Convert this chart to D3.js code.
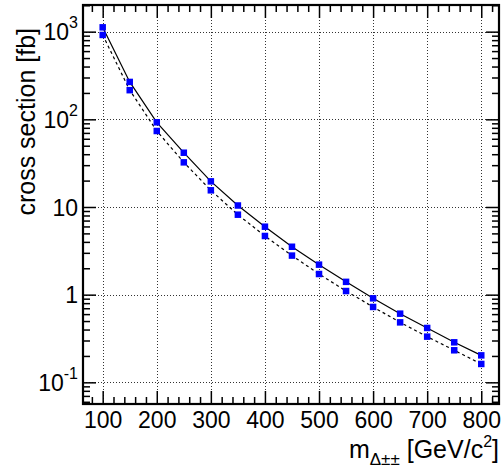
<!DOCTYPE html>
<html>
<head>
<meta charset="utf-8">
<script src="https://cdn.jsdelivr.net/npm/d3@7"></script>
<style>
  html, body { margin: 0; padding: 0; background: #fff; }
  svg { display: block; font-family: "Liberation Sans", Arial, Helvetica, sans-serif; }
</style>
</head>
<body>
<svg id="chart" width="501" height="468"></svg>
<script>
// ---- data ----
const masses = [100, 150, 200, 250, 300, 350, 400, 450, 500, 550, 600, 650, 700, 750, 800];
const xsecUpper = [1120, 267, 92.5, 41.6, 19.6, 10.4, 5.96, 3.52, 2.20, 1.40, 0.908, 0.607, 0.417, 0.286, 0.203];
const xsecLower = [917, 215, 73.6, 32.3, 15.5, 8.17, 4.67, 2.79, 1.72, 1.10, 0.724, 0.483, 0.332, 0.232, 0.162];
const xMajorTicks = [100, 200, 300, 400, 500, 600, 700, 800];
const yMajorTicks = [1000, 100, 10, 1, 0.1];
const yTickBase = ["10", "10", "10", "1", "10"];
const yTickExp = ["3", "2", "", "", "-1"];
const yTitle = "cross section [fb]";

// ---- layout ----
const svg = d3.select("#chart");
const L = 83, R = 499, T = 5, B = 404;
const x = d3.scaleLinear().domain([63.6, 832.8]).range([L, R]);
const y = d3.scaleLog().domain([0.0566, 2014]).range([B, T]);

const xMinor = d3.range(80, 832, 20).filter(v => v % 100 !== 0);
const yMinor = [];
for (let e = -2; e <= 3; e++) for (let m = 2; m <= 9; m++) {
  const v = m * Math.pow(10, e);
  if (v >= 0.0566 && v <= 2014) yMinor.push(v);
}

// ---- grid ----
const grid = svg.append("g").attr("stroke", "#333").attr("stroke-width", 1).attr("stroke-dasharray", "1,2");
grid.selectAll(".gx").data(xMajorTicks).enter().append("line")
  .attr("x1", d => Math.round(x(d)) + 0.5).attr("x2", d => Math.round(x(d)) + 0.5)
  .attr("y1", T).attr("y2", B);
grid.selectAll(".gy").data(yMajorTicks).enter().append("line")
  .attr("y1", d => Math.round(y(d)) + 0.5).attr("y2", d => Math.round(y(d)) + 0.5)
  .attr("x1", L).attr("x2", R);

// ---- lines ----
const lineGen = d3.line().x((d, i) => x(masses[i])).y(d => y(d));
svg.append("path").datum(xsecUpper).attr("d", lineGen)
  .attr("fill", "none").attr("stroke", "#000").attr("stroke-width", 1.2);
svg.append("path").datum(xsecLower).attr("d", lineGen)
  .attr("fill", "none").attr("stroke", "#000").attr("stroke-width", 1.2).attr("stroke-dasharray", "3,3");

// ---- markers ----
const ms = 6.5;
[xsecUpper, xsecLower].forEach(series => {
  svg.append("g").selectAll("rect").data(series).enter().append("rect")
    .attr("x", (d, i) => x(masses[i]) - ms / 2)
    .attr("y", d => y(d) - ms / 2)
    .attr("width", ms).attr("height", ms)
    .attr("fill", "#0000ff");
});

// ---- axes ----
function styleAxis(g) {
  g.select(".domain").remove();
  g.selectAll(".tick line").attr("stroke", "#000").attr("stroke-width", 1.5);
}
// bottom major with labels
const xAxisB = svg.append("g").attr("transform", `translate(0,${B})`)
  .call(d3.axisBottom(x).tickValues(xMajorTicks).tickSize(-13).tickPadding(8).tickFormat(d3.format("d")));
styleAxis(xAxisB);
xAxisB.selectAll("text").attr("font-size", 23).attr("fill", "#000")
  .attr("font-family", "Liberation Sans, Arial, sans-serif");
svg.append("g").attr("transform", `translate(0,${B})`)
  .call(d3.axisBottom(x).tickValues(xMinor).tickSize(-7).tickFormat("")).call(styleAxis);
// top mirrored
svg.append("g").attr("transform", `translate(0,${T})`)
  .call(d3.axisTop(x).tickValues(xMajorTicks).tickSize(-13).tickFormat("")).call(styleAxis);
svg.append("g").attr("transform", `translate(0,${T})`)
  .call(d3.axisTop(x).tickValues(xMinor).tickSize(-7).tickFormat("")).call(styleAxis);

// left major with labels
const yAxisL = svg.append("g").attr("transform", `translate(${L},0)`)
  .call(d3.axisLeft(y).tickValues(yMajorTicks).tickSize(-13).tickPadding(5).tickFormat(""));
styleAxis(yAxisL);
yAxisL.selectAll(".tick text").each(function(d, i) {
  const t = d3.select(this);
  t.attr("font-size", 23).attr("fill", "#000").attr("dy", "0.36em");
  t.text(null);
  t.append("tspan").text(yTickBase[i]);
  if (yTickExp[i]) {
    t.append("tspan").attr("font-size", 16).attr("dy", "-0.75em").text(yTickExp[i]);
  }
});
svg.append("g").attr("transform", `translate(${L},0)`)
  .call(d3.axisLeft(y).tickValues(yMinor).tickSize(-7).tickFormat("")).call(styleAxis);
// right mirrored
svg.append("g").attr("transform", `translate(${R},0)`)
  .call(d3.axisRight(y).tickValues(yMajorTicks).tickSize(-13).tickFormat("")).call(styleAxis);
svg.append("g").attr("transform", `translate(${R},0)`)
  .call(d3.axisRight(y).tickValues(yMinor).tickSize(-7).tickFormat("")).call(styleAxis);

// frame
svg.append("rect").attr("x", L).attr("y", T).attr("width", R - L).attr("height", B - T)
  .attr("fill", "none").attr("stroke", "#000").attr("stroke-width", 2.2);

// ---- titles ----
svg.append("text")
  .attr("transform", `translate(35,${T + 23}) rotate(-90)`)
  .attr("text-anchor", "end")
  .attr("font-size", 25).attr("fill", "#000")
  .text(yTitle);

const xt = svg.append("text").attr("x", 499).attr("y", 458)
  .attr("text-anchor", "end").attr("font-size", 25).attr("fill", "#000");
xt.append("tspan").text("m");
xt.append("tspan").attr("font-size", 17).attr("dy", 7).text("Δ±±");
xt.append("tspan").attr("dy", -7).text(" [GeV/c");
xt.append("tspan").attr("font-size", 16).attr("dy", -11).text("2");
xt.append("tspan").attr("dy", 11).text("]");
</script>
</body>
</html>
